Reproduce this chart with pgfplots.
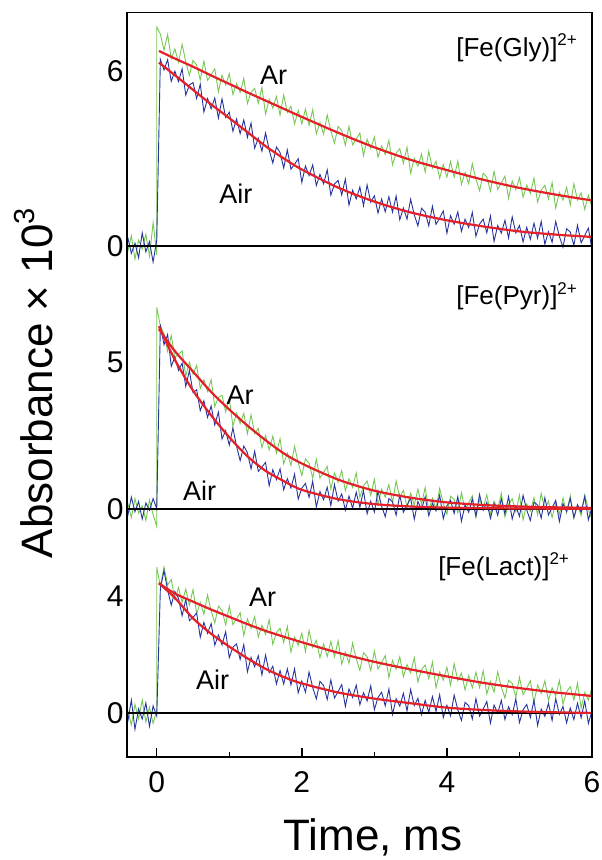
\documentclass[border=0pt]{standalone}
\usepackage{fontspec}
\setmainfont{Liberation Sans}
\usepackage{pgfplots}
\pgfplotsset{compat=1.18}

\definecolor{arg}{RGB}{118,200,84}
\definecolor{airb}{RGB}{38,52,158}
\definecolor{fitr}{RGB}{228,32,40}

\pgfplotsset{
  panel/.style={
    scale only axis, width=465pt, anchor=south west,
    xmin=-0.41, xmax=6, ymin=-1.5, clip=false,
    separate axis lines, axis line style={draw=none},
    xtick=\empty, ytick=\empty, ytick pos=left, tick align=inside,
    minor tick length=9pt,
    minor tick style={line width=1.4pt, black},
  },
  trace/.style={line width=0.9pt},
  fit/.style={fitr, line width=2.2pt, smooth},
  zero/.style={black, line width=2pt},
}
\tikzset{ylab/.style={anchor=east, font=\fontsize{30}{32}\selectfont}}
\newcommand{\lblfont}{\fontsize{27}{30}\selectfont}
\newcommand{\cmpfont}{\fontsize{26}{30}\selectfont}
\newcommand{\charge}[1]{\raisebox{0.42em}{\fontsize{17}{18}\selectfont #1}}

\begin{document}
\begin{tikzpicture}
\useasboundingbox (-127pt,-103pt) rectangle (475pt,757pt);

% ---- bottom panel: [Fe(Lact)]2+
\begin{axis}[panel, at={(0pt,0pt)}, height=204.4pt, ymax=5.5,
  minor ytick={0,2,4}]
\addplot[trace, arg] coordinates {(-0.40,0.1)(-0.35,-0.4)(-0.30,0.3)(-0.25,-0.2)(-0.20,0.45)(-0.15,-0.3)(-0.10,0.2)(-0.05,-0.35)(0,0.1)(0,5.0)
(0.05,4.34)(0.10,5.01)(0.15,4.39)(0.20,4.58)(0.25,3.90)(0.30,4.30)(0.35,3.80)(0.40,4.25)(0.45,3.70)(0.50,4.23)
(0.55,3.41)(0.60,3.79)(0.65,3.39)(0.70,4.05)(0.75,3.50)(0.80,3.09)(0.85,3.67)(0.90,3.52)(0.95,3.02)(1.00,3.67)
(1.05,3.03)(1.10,3.23)(1.15,3.44)(1.20,2.66)(1.25,3.23)(1.30,2.91)(1.35,3.31)(1.40,2.61)(1.45,3.01)(1.50,2.70)
(1.55,3.20)(1.60,2.36)(1.65,2.76)(1.70,2.91)(1.75,2.42)(1.80,2.97)(1.85,2.09)(1.90,2.61)(1.95,2.32)(2.00,2.74)
(2.05,2.11)(2.10,2.83)(2.15,2.25)(2.20,2.49)(2.25,1.90)(2.30,2.37)(2.35,1.94)(2.40,2.46)(2.45,1.93)(2.50,2.48)
(2.55,1.68)(2.60,2.09)(2.65,1.71)(2.70,2.40)(2.75,1.87)(2.80,1.47)(2.85,2.07)(2.90,1.94)(2.95,1.46)(3.00,2.13)
(3.05,1.51)(3.10,1.74)(3.15,1.97)(3.20,1.22)(3.25,1.81)(3.30,1.51)(3.35,1.93)(3.40,1.25)(3.45,1.67)(3.50,1.38)
(3.55,1.90)(3.60,1.07)(3.65,1.49)(3.70,1.65)(3.75,1.18)(3.80,1.75)(3.85,0.87)(3.90,1.41)(3.95,1.13)(4.00,1.57)
(4.05,0.96)(4.10,1.69)(4.15,1.12)(4.20,1.37)(4.25,0.80)(4.30,1.29)(4.35,0.87)(4.40,1.40)(4.45,0.88)(4.50,1.45)
(4.55,0.66)(4.60,1.08)(4.65,0.72)(4.70,1.42)(4.75,0.90)(4.80,0.52)(4.85,1.13)(4.90,1.02)(4.95,0.55)(5.00,1.23)
(5.05,0.63)(5.10,0.86)(5.15,1.11)(5.20,0.36)(5.25,0.97)(5.30,0.68)(5.35,1.11)(5.40,0.44)(5.45,0.87)(5.50,0.59)
(5.55,1.12)(5.60,0.31)(5.65,0.73)(5.70,0.91)(5.75,0.45)(5.80,1.03)(5.85,0.17)(5.90,0.71)(5.95,0.45)(6.00,0.90)};
\addplot[trace, airb] coordinates {(-0.40,-0.3)(-0.35,0.45)(-0.30,-0.55)(-0.25,0.15)(-0.20,-0.2)(-0.15,0.35)(-0.10,-0.45)(-0.05,0.25)(0,-0.1)
(0.05,4.27)(0.10,4.88)(0.15,4.22)(0.20,3.70)(0.25,4.17)(0.30,3.93)(0.35,3.34)(0.40,3.90)(0.45,3.17)(0.50,3.28)
(0.55,3.43)(0.60,2.60)(0.65,3.11)(0.70,2.74)(0.75,3.07)(0.80,2.33)(0.85,2.68)(0.90,2.34)(0.95,2.79)(1.00,1.90)
(1.05,2.26)(1.10,2.37)(1.15,1.84)(1.20,2.35)(1.25,1.42)(1.30,1.91)(1.35,1.59)(1.40,1.97)(1.45,1.31)(1.50,1.99)
(1.55,1.39)(1.60,1.61)(1.65,1.00)(1.70,1.46)(1.75,1.00)(1.80,1.52)(1.85,0.97)(1.90,1.52)(1.95,0.70)(2.00,1.10)
(2.05,0.72)(2.10,1.41)(2.15,0.88)(2.20,0.49)(2.25,1.09)(2.30,0.95)(2.35,0.47)(2.40,1.14)(2.45,0.52)(2.50,0.74)
(2.55,0.98)(2.60,0.23)(2.65,0.83)(2.70,0.54)(2.75,0.96)(2.80,0.29)(2.85,0.70)(2.90,0.42)(2.95,0.94)(3.00,0.12)
(3.05,0.54)(3.10,0.72)(3.15,0.25)(3.20,0.83)(3.25,-0.04)(3.30,0.50)(3.35,0.24)(3.40,0.68)(3.45,0.08)(3.50,0.81)
(3.55,0.26)(3.60,0.51)(3.65,-0.05)(3.70,0.44)(3.75,0.03)(3.80,0.57)(3.85,0.06)(3.90,0.63)(3.95,-0.15)(4.00,0.27)
(4.05,-0.09)(4.10,0.62)(4.15,0.12)(4.20,-0.25)(4.25,0.37)(4.30,0.26)(4.35,-0.20)(4.40,0.50)(4.45,-0.10)(4.50,0.14)
(4.55,0.40)(4.60,-0.34)(4.65,0.28)(4.70,0.00)(4.75,0.44)(4.80,-0.22)(4.85,0.22)(4.90,-0.05)(4.95,0.49)(5.00,-0.32)
(5.05,0.12)(5.10,0.30)(5.15,-0.15)(5.20,0.44)(5.25,-0.42)(5.30,0.14)(5.35,-0.11)(5.40,0.34)(5.45,-0.25)(5.50,0.50)
(5.55,-0.04)(5.60,0.23)(5.65,-0.33)(5.70,0.18)(5.75,-0.22)(5.80,0.34)(5.85,-0.16)(5.90,0.42)(5.95,-0.35)(6.00,0.09)};
\addplot[zero] coordinates {(-0.41,0)(6,0)};
\addplot[fit] coordinates {(0.03,4.45)(0.25,4.1)(0.5,3.82)(0.75,3.55)(1,3.3)(1.25,3.05)(1.5,2.82)(1.75,2.62)(2,2.43)(2.5,2.07)(3,1.76)(3.5,1.5)(4,1.26)(4.5,1.04)(5,0.86)(5.5,0.71)(6,0.59)};
\addplot[fit] coordinates {(0.03,4.45)(0.25,3.95)(0.5,3.25)(0.75,2.72)(1,2.28)(1.25,1.88)(1.5,1.52)(1.75,1.24)(2,1.02)(2.5,0.71)(3,0.5)(3.5,0.34)(4,0.19)(4.5,0.11)(5,0.06)(5.5,0.03)(6,0.01)};
\node[ylab] at (axis cs:-0.41,0) {0};
\node[ylab] at (axis cs:-0.41,4) {4};
\node[font=\cmpfont, anchor=east] at (axis cs:5.73,5.0) {[Fe(Lact)]\charge{2+}};
\node[font=\lblfont] at (axis cs:1.46,3.97) {Ar};
\node[font=\lblfont] at (axis cs:0.77,1.14) {Air};
\end{axis}

% ---- middle panel: [Fe(Pyr)]2+
\begin{axis}[panel, at={(0pt,204.4pt)}, height=262.8pt, ymax=7.5,
  minor ytick={-1,0,1,3,5,7}]
\addplot[trace, arg] coordinates {(-0.40,0.2)(-0.35,-0.3)(-0.30,0.35)(-0.25,-0.15)(-0.20,0.1)(-0.15,-0.4)(-0.10,0.3)(-0.05,-0.2)(0,-0.6)(0,6.9)
(0.05,6.26)(0.10,6.00)(0.15,5.39)(0.20,5.93)(0.25,5.18)(0.30,5.29)(0.35,5.41)(0.40,4.54)(0.45,5.02)(0.50,4.61)
(0.55,4.91)(0.60,4.12)(0.65,4.42)(0.70,4.02)(0.75,4.42)(0.80,3.50)(0.85,3.82)(0.90,3.89)(0.95,3.32)(1.00,3.79)
(1.05,2.83)(1.10,3.28)(1.15,2.92)(1.20,3.27)(1.25,2.57)(1.30,3.22)(1.35,2.58)(1.40,2.75)(1.45,2.10)(1.50,2.51)
(1.55,2.02)(1.60,2.49)(1.65,1.90)(1.70,2.40)(1.75,1.54)(1.80,1.91)(1.85,1.49)(1.90,2.14)(1.95,1.57)(2.00,1.14)
(2.05,1.71)(2.10,1.56)(2.15,1.05)(2.20,1.70)(2.25,1.05)(2.30,1.25)(2.35,1.45)(2.40,0.67)(2.45,1.23)(2.50,0.91)
(2.55,1.31)(2.60,0.62)(2.65,1.03)(2.70,0.73)(2.75,1.23)(2.80,0.39)(2.85,0.79)(2.90,0.95)(2.95,0.46)(3.00,1.01)
(3.05,0.14)(3.10,0.67)(3.15,0.40)(3.20,0.83)(3.25,0.22)(3.30,0.95)(3.35,0.38)(3.40,0.63)(3.45,0.05)(3.50,0.54)
(3.55,0.12)(3.60,0.67)(3.65,0.15)(3.70,0.73)(3.75,-0.06)(3.80,0.36)(3.85,0.00)(3.90,0.70)(3.95,0.19)(4.00,-0.19)
(4.05,0.43)(4.10,0.32)(4.15,-0.14)(4.20,0.55)(4.25,-0.05)(4.30,0.20)(4.35,0.45)(4.40,-0.29)(4.45,0.32)(4.50,0.04)
(4.55,0.48)(4.60,-0.18)(4.65,0.26)(4.70,-0.01)(4.75,0.53)(4.80,-0.28)(4.85,0.16)(4.90,0.34)(4.95,-0.11)(5.00,0.47)
(5.05,-0.38)(5.10,0.17)(5.15,-0.08)(5.20,0.38)(5.25,-0.21)(5.30,0.53)(5.35,-0.01)(5.40,0.26)(5.45,-0.30)(5.50,0.21)
(5.55,-0.19)(5.60,0.37)(5.65,-0.14)(5.70,0.45)(5.75,-0.32)(5.80,0.12)(5.85,-0.23)(5.90,0.48)(5.95,-0.02)(6.00,-0.38)};
\addplot[trace, airb] coordinates {(-0.40,-0.25)(-0.35,0.4)(-0.30,-0.1)(-0.25,0.25)(-0.20,-0.35)(-0.15,0.2)(-0.10,-0.05)(-0.05,0.35)(0,0.0)
(0.05,6.31)(0.10,5.62)(0.15,5.97)(0.20,4.88)(0.25,5.20)(0.30,4.74)(0.35,4.99)(0.40,4.19)(0.45,4.73)(0.50,3.98)
(0.55,4.08)(0.60,3.36)(0.65,3.70)(0.70,3.13)(0.75,3.52)(0.80,2.87)(0.85,3.31)(0.90,2.39)(0.95,2.68)(1.00,2.18)
(1.05,2.77)(1.10,2.14)(1.15,1.65)(1.20,2.15)(1.25,1.92)(1.30,1.37)(1.35,1.97)(1.40,1.28)(1.45,1.43)(1.50,1.59)
(1.55,0.79)(1.60,1.34)(1.65,1.00)(1.70,1.37)(1.75,0.65)(1.80,1.03)(1.85,0.71)(1.90,1.19)(1.95,0.33)(2.00,0.71)
(2.05,0.87)(2.10,0.39)(2.15,0.94)(2.20,0.06)(2.25,0.59)(2.30,0.31)(2.35,0.74)(2.40,0.11)(2.45,0.83)(2.50,0.26)
(2.55,0.51)(2.60,-0.05)(2.65,0.44)(2.70,0.02)(2.75,0.57)(2.80,0.05)(2.85,0.62)(2.90,-0.17)(2.95,0.26)(3.00,-0.11)
(3.05,0.60)(3.10,0.09)(3.15,-0.27)(3.20,0.35)(3.25,0.24)(3.30,-0.22)(3.35,0.47)(3.40,-0.12)(3.45,0.12)(3.50,0.37)
(3.55,-0.36)(3.60,0.25)(3.65,-0.02)(3.70,0.41)(3.75,-0.24)(3.80,0.19)(3.85,-0.07)(3.90,0.47)(3.95,-0.34)(4.00,0.10)
(4.05,0.29)(4.10,-0.16)(4.15,0.42)(4.20,-0.43)(4.25,0.13)(4.30,-0.12)(4.35,0.34)(4.40,-0.25)(4.45,0.49)(4.50,-0.05)
(4.55,0.22)(4.60,-0.33)(4.65,0.18)(4.70,-0.22)(4.75,0.34)(4.80,-0.17)(4.85,0.42)(4.90,-0.35)(4.95,0.09)(5.00,-0.26)
(5.05,0.46)(5.10,-0.04)(5.15,-0.40)(5.20,0.23)(5.25,0.13)(5.30,-0.32)(5.35,0.38)(5.40,-0.21)(5.45,0.04)(5.50,0.29)
(5.55,-0.44)(5.60,0.18)(5.65,-0.09)(5.70,0.35)(5.75,-0.30)(5.80,0.14)(5.85,-0.12)(5.90,0.42)(5.95,-0.38)(6.00,0.06)};
\addplot[zero] coordinates {(-0.41,0)(6,0)};
\addplot[fit] coordinates {(0.03,6.15)(0.25,5.4)(0.5,4.7)(0.75,4.0)(1,3.4)(1.25,2.85)(1.5,2.35)(1.75,1.9)(2,1.55)(2.5,1.0)(3,0.62)(3.5,0.38)(4,0.22)(4.5,0.13)(5,0.08)(5.5,0.05)(6,0.03)};
\addplot[fit] coordinates {(0.03,6.25)(0.25,5.1)(0.5,4.05)(0.75,3.2)(1,2.45)(1.25,1.8)(1.5,1.3)(1.75,0.95)(2,0.65)(2.5,0.33)(3,0.16)(3.5,0.08)(4,0.04)(5,0.01)(6,0)};
\node[ylab] at (axis cs:-0.41,0) {0};
\node[ylab] at (axis cs:-0.41,5) {5};
\node[font=\cmpfont, anchor=east] at (axis cs:5.84,7.28) {[Fe(Pyr)]\charge{2+}};
\node[font=\lblfont] at (axis cs:1.15,3.9) {Ar};
\node[font=\lblfont] at (axis cs:0.59,0.62) {Air};
\end{axis}

% ---- top panel: [Fe(Gly)]2+
\begin{axis}[panel, at={(0pt,467.2pt)}, height=277.4pt, ymax=8,
  minor ytick={0,2,4,6}]
\addplot[trace, arg] coordinates {(-0.40,-0.2)(-0.35,0.35)(-0.30,-0.45)(-0.25,0.2)(-0.20,-0.1)(-0.15,0.4)(-0.10,-0.35)(-0.05,0.8)(0,-0.3)(0,7.5)
(0.05,7.26)(0.10,6.71)(0.15,7.24)(0.20,6.42)(0.25,6.75)(0.30,6.29)(0.35,6.91)(0.40,6.30)(0.45,5.84)(0.50,6.36)
(0.55,6.20)(0.60,5.69)(0.65,6.33)(0.70,5.68)(0.75,5.87)(0.80,6.07)(0.85,5.28)(0.90,5.85)(0.95,5.52)(1.00,5.90)
(1.05,5.19)(1.10,5.57)(1.15,5.26)(1.20,5.74)(1.25,4.88)(1.30,5.26)(1.35,5.40)(1.40,4.89)(1.45,5.43)(1.50,4.52)
(1.55,5.02)(1.60,4.72)(1.65,5.12)(1.70,4.48)(1.75,5.17)(1.80,4.57)(1.85,4.79)(1.90,4.18)(1.95,4.64)(2.00,4.18)
(2.05,4.69)(2.10,4.13)(2.15,4.67)(2.20,3.84)(2.25,4.23)(2.30,3.83)(2.35,4.49)(2.40,3.94)(2.45,3.52)(2.50,4.10)
(2.55,3.95)(2.60,3.45)(2.65,4.10)(2.70,3.46)(2.75,3.66)(2.80,3.87)(2.85,3.09)(2.90,3.66)(2.95,3.34)(3.00,3.73)
(3.05,3.04)(3.10,3.43)(3.15,3.13)(3.20,3.62)(3.25,2.78)(3.30,3.18)(3.35,3.33)(3.40,2.83)(3.45,3.38)(3.50,2.49)
(3.55,3.01)(3.60,2.73)(3.65,3.15)(3.70,2.53)(3.75,3.24)(3.80,2.67)(3.85,2.90)(3.90,2.32)(3.95,2.79)(4.00,2.36)
(4.05,2.89)(4.10,2.35)(4.15,2.91)(4.20,2.11)(4.25,2.52)(4.30,2.13)(4.35,2.82)(4.40,2.29)(4.45,1.89)(4.50,2.49)
(4.55,2.36)(4.60,1.88)(4.65,2.56)(4.70,1.94)(4.75,2.16)(4.80,2.39)(4.85,1.63)(4.90,2.23)(4.95,1.93)(5.00,2.34)
(5.05,1.67)(5.10,2.08)(5.15,1.80)(5.20,2.32)(5.25,1.50)(5.30,1.91)(5.35,2.08)(5.40,1.61)(5.45,2.17)(5.50,1.30)
(5.55,1.84)(5.60,1.57)(5.65,2.01)(5.70,1.40)(5.75,2.13)(5.80,1.57)(5.85,1.82)(5.90,1.25)(5.95,1.74)(6.00,1.32)};
\addplot[trace, airb] coordinates {(-0.40,0.3)(-0.35,-0.25)(-0.30,0.1)(-0.25,-0.4)(-0.20,0.45)(-0.15,-0.2)(-0.10,0.15)(-0.05,-0.55)(0,0.2)
(0.05,6.39)(0.10,6.03)(0.15,6.38)(0.20,5.64)(0.25,5.99)(0.30,5.63)(0.35,6.07)(0.40,5.17)(0.45,5.51)(0.50,5.60)
(0.55,5.05)(0.60,5.54)(0.65,4.59)(0.70,5.05)(0.75,4.70)(0.80,5.07)(0.85,4.38)(0.90,5.04)(0.95,4.40)(1.00,4.58)
(1.05,3.93)(1.10,4.35)(1.15,3.85)(1.20,4.32)(1.25,3.72)(1.30,4.21)(1.35,3.35)(1.40,3.69)(1.45,3.25)(1.50,3.87)
(1.55,3.29)(1.60,2.84)(1.65,3.39)(1.70,3.20)(1.75,2.67)(1.80,3.29)(1.85,2.63)(1.90,2.80)(1.95,2.99)(2.00,2.18)
(2.05,2.74)(2.10,2.41)(2.15,2.78)(2.20,2.07)(2.25,2.45)(2.30,2.13)(2.35,2.61)(2.40,1.74)(2.45,2.12)(2.50,2.25)
(2.55,1.75)(2.60,2.29)(2.65,1.40)(2.70,1.91)(2.75,1.61)(2.80,2.02)(2.85,1.38)(2.90,2.09)(2.95,1.50)(3.00,1.72)
(3.05,1.13)(3.10,1.61)(3.15,1.17)(3.20,1.69)(3.25,1.16)(3.30,1.71)(3.35,0.90)(3.40,1.30)(3.45,0.92)(3.50,1.60)
(3.55,1.07)(3.60,0.69)(3.65,1.29)(3.70,1.16)(3.75,0.69)(3.80,1.36)(3.85,0.74)(3.90,0.96)(3.95,1.20)(4.00,0.44)
(4.05,1.04)(4.10,0.75)(4.15,1.17)(4.20,0.50)(4.25,0.92)(4.30,0.63)(4.35,1.15)(4.40,0.33)(4.45,0.75)(4.50,0.92)
(4.55,0.45)(4.60,1.03)(4.65,0.16)(4.70,0.70)(4.75,0.44)(4.80,0.88)(4.85,0.27)(4.90,1.00)(4.95,0.45)(5.00,0.70)
(5.05,0.14)(5.10,0.64)(5.15,0.23)(5.20,0.78)(5.25,0.27)(5.30,0.84)(5.35,0.06)(5.40,0.49)(5.45,0.13)(5.50,0.84)
(5.55,0.33)(5.60,-0.04)(5.65,0.59)(5.70,0.48)(5.75,0.02)(5.80,0.71)(5.85,0.11)(5.90,0.36)(5.95,0.61)(6.00,-0.13)};
\addplot[zero] coordinates {(-0.41,0)(6,0)};
\addplot[fit] coordinates {(0.03,6.68)(0.25,6.42)(0.5,6.14)(0.75,5.84)(1,5.55)(1.25,5.26)(1.5,4.98)(1.75,4.7)(2,4.42)(2.5,3.88)(3,3.38)(3.5,2.95)(4,2.6)(4.5,2.27)(5,1.99)(5.5,1.76)(6,1.56)};
\addplot[fit] coordinates {(0.03,6.28)(0.25,5.85)(0.5,5.35)(0.75,4.85)(1,4.38)(1.25,3.9)(1.5,3.42)(1.75,3.0)(2,2.62)(2.5,2.0)(3,1.52)(3.5,1.15)(4,0.88)(4.5,0.67)(5,0.5)(5.5,0.39)(6,0.31)};
\node[ylab] at (axis cs:-0.41,0) {0};
\node[ylab] at (axis cs:-0.41,6) {6};
\node[font=\cmpfont, anchor=east] at (axis cs:5.84,6.8) {[Fe(Gly)]\charge{2+}};
\node[font=\lblfont] at (axis cs:1.61,5.85) {Ar};
\node[font=\lblfont] at (axis cs:1.09,1.8) {Air};
\end{axis}

% ---- outer frame with the shared time axis
\begin{axis}[scale only axis, width=465pt, height=744.6pt, anchor=south west, at={(0pt,0pt)},
  xmin=-0.41, xmax=6, ymin=0, ymax=1, ytick=\empty,
  xtick={0,2,4,6}, minor xtick={1,3,5}, xtick pos=bottom, tick align=inside,
  major tick length=9pt, minor tick length=5pt,
  axis line style={line width=1.5pt, black},
  tick style={line width=1.4pt, black},
  xticklabel style={font=\fontsize{30}{32}\selectfont, yshift=-11pt},
  /pgf/number format/assume math mode=true]
\end{axis}

% shared axis titles
\node[rotate=90, anchor=base, font=\fontsize{44}{48}\selectfont] at (-74pt,374pt) {Absorbance × 10\raisebox{0.42em}{\fontsize{29}{30}\selectfont 3}};
\node[anchor=base, font=\fontsize{44}{48}\selectfont] at (246pt,-93pt) {Time, ms};
\end{tikzpicture}
\end{document}
